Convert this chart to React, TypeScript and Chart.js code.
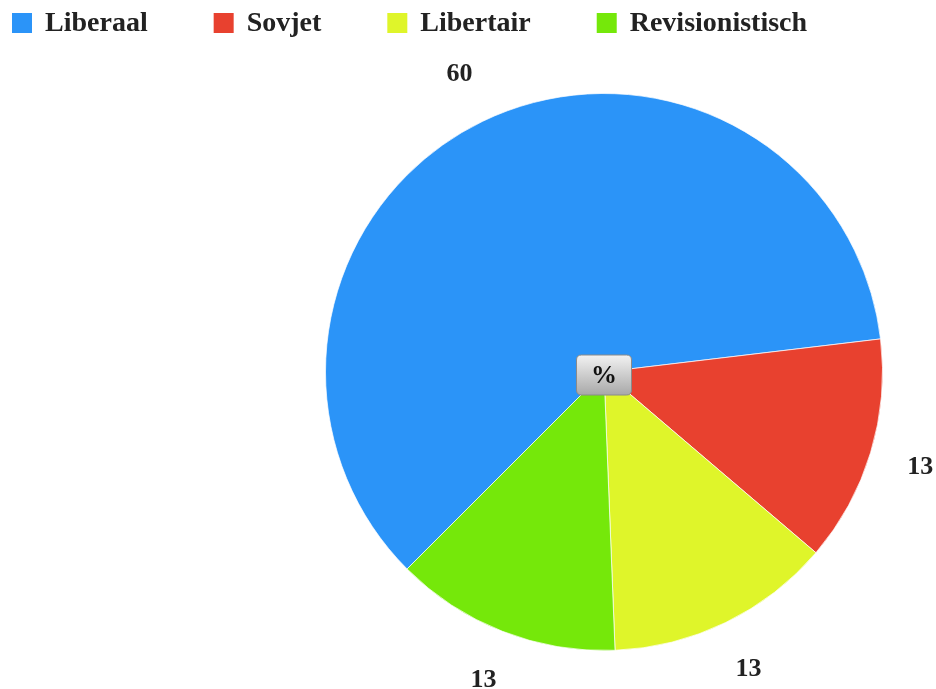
import React, { useEffect, useRef } from "react";
import { Chart, registerables } from "chart.js";

Chart.register(...registerables);

const categories = ["Liberaal", "Sovjet", "Libertair", "Revisionistisch"];
const values = [60, 13, 13, 13];
const colors = ["#2b94f8", "#e8412f", "#dff52a", "#75e80a"];
const centerLabel = "%";

const FONT = "'Liberation Serif', 'Times New Roman', serif";

const customPlugin = {
  id: "customDraw",
  afterDraw(chart: any) {
    const ctx = chart.ctx;
    const meta = chart.getDatasetMeta(0);
    ctx.save();
    // legend
    ctx.font = `bold 28px ${FONT}`;
    ctx.textBaseline = "middle";
    ctx.textAlign = "left";
    let x = 12;
    const cats = chart.data.labels as string[];
    cats.forEach((c, i) => {
      ctx.fillStyle = (chart.data.datasets[0].backgroundColor as string[])[i];
      ctx.fillRect(x, 13, 20, 20);
      ctx.fillStyle = "#222";
      const tx = x + 33;
      ctx.fillText(c, tx, 24);
      x = tx + ctx.measureText(c).width + 66;
    });
    // value labels
    ctx.font = `bold 26px ${FONT}`;
    ctx.textAlign = "center";
    ctx.fillStyle = "#222";
    meta.data.forEach((arc: any, i: number) => {
      const mid = (arc.startAngle + arc.endAngle) / 2;
      const r = arc.outerRadius + 52;
      const lx = arc.x + Math.cos(mid) * r;
      const ly = arc.y + Math.sin(mid) * r;
      ctx.fillText(String(chart.data.datasets[0].data[i]), lx, ly);
    });
    // center box
    const a0 = meta.data[0];
    const cx = a0.x, cy = a0.y + 3;
    const w = 55, h = 40, rad = 5;
    const bx = cx - w / 2, by = cy - h / 2;
    const g = ctx.createLinearGradient(0, by, 0, by + h);
    g.addColorStop(0, "#f2f2f2");
    g.addColorStop(1, "#a8a8a8");
    ctx.beginPath();
    ctx.moveTo(bx + rad, by);
    ctx.lineTo(bx + w - rad, by);
    ctx.quadraticCurveTo(bx + w, by, bx + w, by + rad);
    ctx.lineTo(bx + w, by + h - rad);
    ctx.quadraticCurveTo(bx + w, by + h, bx + w - rad, by + h);
    ctx.lineTo(bx + rad, by + h);
    ctx.quadraticCurveTo(bx, by + h, bx, by + h - rad);
    ctx.lineTo(bx, by + rad);
    ctx.quadraticCurveTo(bx, by, bx + rad, by);
    ctx.closePath();
    ctx.fillStyle = g;
    ctx.fill();
    ctx.strokeStyle = "#8a8a8a";
    ctx.lineWidth = 1;
    ctx.stroke();
    ctx.fillStyle = "#111";
    ctx.font = `bold 26px ${FONT}`;
    ctx.textBaseline = "middle";
    ctx.fillText(centerLabel, cx, cy + 1);
    ctx.restore();
  },
};

export default function App() {
  const ref = useRef<HTMLCanvasElement>(null);
  useEffect(() => {
    if (!ref.current) return;
    const chart = new Chart(ref.current, {
      type: "pie",
      data: {
        labels: categories,
        datasets: [
          {
            data: values,
            backgroundColor: colors,
            borderColor: "rgba(255,255,255,0.7)",
            borderWidth: 1,
          },
        ],
      },
      options: {
        animation: false,
        responsive: false,
        rotation: 225,
        layout: { padding: { left: 325, right: 53, top: 93, bottom: 38 } },
        plugins: {
          legend: { display: false },
          tooltip: { enabled: false },
        },
      },
      plugins: [customPlugin],
    });
    return () => chart.destroy();
  }, []);
  return (
    <div style={{ position: "absolute", left: 0, top: 0, width: 936, height: 689, background: "#fff" }}>
      <canvas ref={ref} width={936} height={689} style={{ width: 936, height: 689 }} />
    </div>
  );
}
